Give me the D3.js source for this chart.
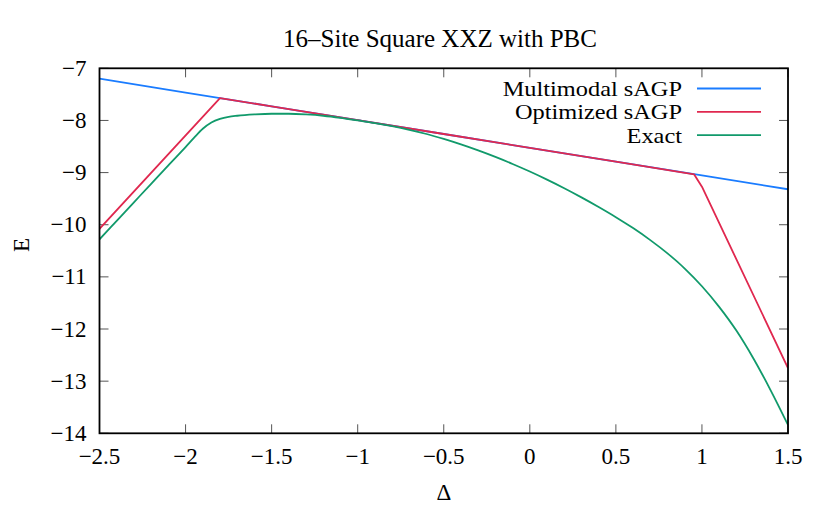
<!DOCTYPE html>
<html><head><meta charset="utf-8">
<script src="https://cdn.jsdelivr.net/npm/d3@7"></script>
<style>body{margin:0;background:#fff}svg{display:block}text{font-family:"Liberation Serif","DejaVu Serif",serif;fill:#000}</style>
</head><body><svg id="c" width="830" height="508"></svg>
<script>
const title = "16–Site Square XXZ with PBC";
const xTicks = [-2.5,-2,-1.5,-1,-0.5,0,0.5,1,1.5];
const xTickLabels = ["−2.5","−2","−1.5","−1","−0.5","0","0.5","1","1.5"];
const yTicks = [-7,-8,-9,-10,-11,-12,-13,-14];
const yTickLabels = ["−7","−8","−9","−10","−11","−12","−13","−14"];
const seriesNames = ["Multimodal sAGP","Optimized sAGP","Exact"];
const seriesColors = ["#1a7cff","#e0284f","#119a6b"];

const multiX = [-2.5,-2,-1.5,-1,-0.5,0,0.5,1,1.5];
const multiE = [-7.2,-7.465,-7.73,-7.995,-8.26,-8.525,-8.79,-9.055,-9.32];

const optX = [-2.5,-1.8,-1.5,-1,-0.5,0,0.5,0.955,1.0,1.5];
const optE = [-10.08,-7.57,-7.73,-7.995,-8.26,-8.525,-8.79,-9.035,-9.27,-12.75];

const exactX = [-2.5,-2.4,-2.3,-2.2,-2.1,-2.0,-1.95,-1.9,-1.85,-1.8,-1.75,-1.7,-1.6,-1.5,-1.4,-1.3,-1.2,-1.1,-1.0,-0.9,-0.8,-0.7,-0.6,-0.5,-0.4,-0.3,-0.2,-0.1,0,0.1,0.2,0.3,0.4,0.5,0.6,0.7,0.8,0.9,1.0,1.1,1.2,1.3,1.4,1.5];
const exactE = [-10.28,-9.925,-9.57,-9.215,-8.86,-8.51,-8.33,-8.16,-8.04,-7.97,-7.93,-7.91,-7.885,-7.872,-7.872,-7.885,-7.91,-7.95,-8.0,-8.05,-8.11,-8.18,-8.26,-8.355,-8.46,-8.575,-8.7,-8.835,-8.98,-9.135,-9.3,-9.475,-9.66,-9.855,-10.065,-10.295,-10.55,-10.84,-11.18,-11.575,-12.03,-12.57,-13.18,-13.84];

const svg = d3.select("#c");
const L=99.5, R=788, T=68.3, B=433.3;
const x = d3.scaleLinear().domain([-2.5,1.5]).range([L,R]);
const y = d3.scaleLinear().domain([-14,-7]).range([B,T]);

// title
svg.append("text").attr("x",440).attr("y",47).attr("text-anchor","middle").style("font-size","25px").text(title);

// ticks (mirrored, inward)
const tl = 9;
const tg = svg.append("g").attr("stroke","#555").attr("stroke-width",1);
xTicks.forEach(v=>{
  tg.append("line").attr("x1",x(v)).attr("x2",x(v)).attr("y1",B).attr("y2",B-tl);
  tg.append("line").attr("x1",x(v)).attr("x2",x(v)).attr("y1",T).attr("y2",T+tl);
});
yTicks.forEach(v=>{
  tg.append("line").attr("y1",y(v)).attr("y2",y(v)).attr("x1",L).attr("x2",L+tl);
  tg.append("line").attr("y1",y(v)).attr("y2",y(v)).attr("x1",R).attr("x2",R-tl);
});
// tick labels
xTicks.forEach((v,i)=>{
  svg.append("text").attr("x",x(v)).attr("y",B+31).attr("text-anchor","middle").style("font-size","23px").text(xTickLabels[i]);
});
yTicks.forEach((v,i)=>{
  svg.append("text").attr("x",L-13).attr("y",y(v)+7.5).attr("text-anchor","end").style("font-size","23px").text(yTickLabels[i]);
});
// axis titles
svg.append("text").attr("x",444).attr("y",500).attr("text-anchor","middle").style("font-size","23px").text("Δ");
svg.append("text").attr("transform","translate(29,245) rotate(-90)").attr("text-anchor","middle").style("font-size","23px").text("E");

// lines
svg.append("defs").append("clipPath").attr("id","pc").append("rect").attr("x",L).attr("y",T).attr("width",R-L).attr("height",B-T);
const plot = svg.append("g").attr("clip-path","url(#pc)");
const lin = d3.line().x(d=>x(d[0])).y(d=>y(d[1]));
const smooth = d3.line().x(d=>x(d[0])).y(d=>y(d[1])).curve(d3.curveMonotoneX);
const data = [
  {pts: multiX.map((v,i)=>[v,multiE[i]]), gen: lin},
  {pts: optX.map((v,i)=>[v,optE[i]]), gen: lin},
  {pts: exactX.map((v,i)=>[v,exactE[i]]), gen: smooth}
];
data.forEach((s,i)=>{
  plot.append("path").attr("d",s.gen(s.pts)).attr("fill","none").attr("stroke",seriesColors[i]).attr("stroke-width",1.8).attr("stroke-linejoin","round");
});

// legend
seriesNames.forEach((n,i)=>{
  const yy = 88.5 + i*23.3;
  svg.append("text").attr("transform",`translate(682,${yy+7.5}) scale(1.16,1)`).attr("text-anchor","end").style("font-size","21px").text(n);
  svg.append("line").attr("x1",697).attr("x2",761).attr("y1",yy).attr("y2",yy).attr("stroke",seriesColors[i]).attr("stroke-width",1.8);
});

// frame
svg.append("rect").attr("x",L).attr("y",T).attr("width",R-L).attr("height",B-T).attr("fill","none").attr("stroke","#000").attr("stroke-width",1.8);
</script></body></html>
